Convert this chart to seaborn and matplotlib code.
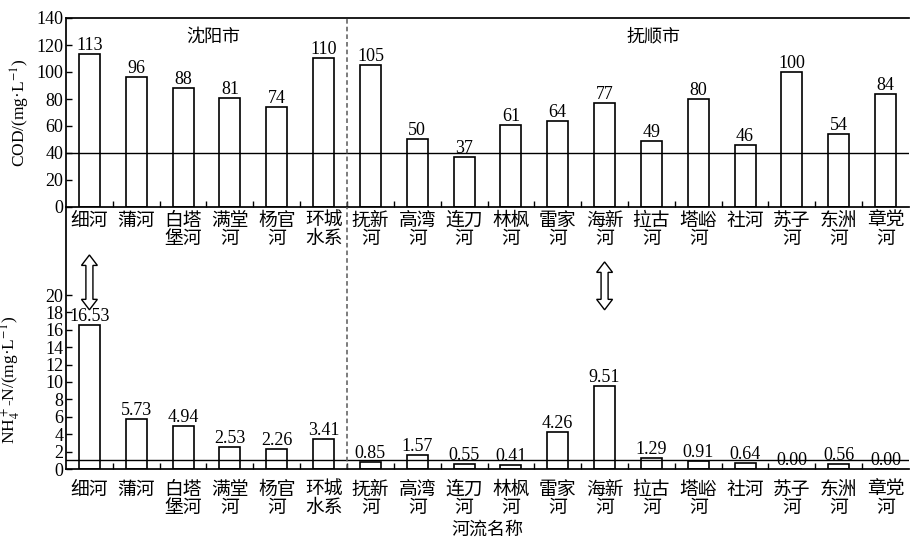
import numpy as np
import pandas as pd
import matplotlib
matplotlib.use('Agg')
import matplotlib.pyplot as plt
import seaborn as sns
from matplotlib.patches import Polygon

# ---- data ----
rivers = ['细河', '蒲河', '白塔堡河', '满堂河', '杨官河', '环城水系',
          '抚新河', '高湾河', '连刀河', '林枫河', '雷家河', '海新河',
          '拉古河', '塔峪河', '社河', '苏子河', '东洲河', '章党河']
tick_labels = ['细河', '蒲河', '白塔\n堡河', '满堂\n河', '杨官\n河', '环城\n水系',
               '抚新\n河', '高湾\n河', '连刀\n河', '林枫\n河', '雷家\n河', '海新\n河',
               '拉古\n河', '塔峪\n河', '社河', '苏子\n河', '东洲\n河', '章党\n河']
cod = [113, 96, 88, 81, 74, 110, 105, 50, 37, 61, 64, 77, 49, 80, 46, 100, 54, 84]
nh3 = [16.53, 5.73, 4.94, 2.53, 2.26, 3.41, 0.85, 1.57, 0.55, 0.41, 4.26, 9.51,
       1.29, 0.91, 0.64, 0.00, 0.56, 0.00]
cities = ['沈阳市', '抚顺市']
cod_limit = 40
nh3_limit = 1.0

df = pd.DataFrame({'river': rivers, 'cod': cod, 'nh3': nh3})

sns.set_theme(style='white', rc={'axes.edgecolor': 'black', 'xtick.color': 'black',
                                 'ytick.color': 'black', 'text.color': 'black',
                                 'axes.labelcolor': 'black'})
plt.rcParams['font.family'] = ['Liberation Serif', 'Noto Sans CJK SC']
plt.rcParams['mathtext.fontset'] = 'stix'
plt.rcParams['axes.unicode_minus'] = False

W, H = 914, 539
fig = plt.figure(figsize=(W / 100, H / 100), dpi=100)
left, right = 66, 909
ax1 = fig.add_axes([left / W, 1 - 207 / H, (right - left) / W, (207 - 18) / H])
ax2 = fig.add_axes([left / W, 1 - 469 / H, (right - left) / W, (469 - 207) / H])
ax2.patch.set_visible(False)

bar_kw = dict(color='white', saturation=1, edgecolor='black', linewidth=1.2, width=0.45)
val_fs = 13

# ---- COD ----
sns.barplot(data=df, x='river', y='cod', ax=ax1, **bar_kw)
ax1.bar_label(ax1.containers[0], fmt='%d', padding=0, fontsize=val_fs)
ax1.axhline(cod_limit, color='black', lw=1)
ax1.set_ylim(0, 140)
ax1.set_yticks(np.arange(0, 141, 20))
ax1.set_ylabel('COD/(mg·L$^{-1}$)', fontsize=12.5, labelpad=3)
ax1.set_xlabel('')
ax1.spines['right'].set_visible(False)
ax1.text(2.65, 126, cities[0], ha='center', va='center', fontsize=13)
ax1.text(12.05, 126, cities[1], ha='center', va='center', fontsize=13)

# ---- NH4+-N ----
sns.barplot(data=df, x='river', y='nh3', ax=ax2, **bar_kw)
ax2.bar_label(ax2.containers[0], fmt='%.2f', padding=0, fontsize=val_fs)
ax2.axhline(nh3_limit, color='black', lw=1)
ax2.set_ylim(0, (469 - 207) / 8.7)
ax2.set_yticks(np.arange(0, 21, 2))
ax2.set_ylabel('NH$_4^+$-N/(mg·L$^{-1}$)', fontsize=12.5)
ax2.yaxis.set_label_coords(-0.052, 0.34)
ax2.spines['top'].set_visible(False)
ax2.spines['right'].set_visible(False)

for ax, pad in ((ax1, 4), (ax2, 9)):
    ax.set_xlim(-0.5, len(rivers) - 0.5)
    ax.set_xticks(range(len(rivers)))
    ax.set_xticklabels(tick_labels, fontsize=13.5, linespacing=1.1)
    ax.set_xticks(np.arange(0.5, len(rivers) - 1, 1), minor=True)
    ax.tick_params(axis='x', which='major', length=0, pad=pad)
    ax.tick_params(axis='x', which='minor', direction='in', length=4, width=1, bottom=True)
    ax.tick_params(axis='y', direction='in', length=4, width=1, left=True, labelsize=13, pad=2)
    ax.axvline(5.5, color='0.35', lw=1.1, ls=(0, (3, 2)), clip_on=False)

ax2.set_xlabel('河流名称', fontsize=13, labelpad=3)

# double-headed hollow arrows
def double_arrow(ax, x, y0, y1, w=0.075, hw=0.17, hl=1.2):
    pts = [(x - w, y0 + hl), (x - hw, y0 + hl), (x, y0), (x + hw, y0 + hl), (x + w, y0 + hl),
           (x + w, y1 - hl), (x + hw, y1 - hl), (x, y1), (x - hw, y1 - hl), (x - w, y1 - hl)]
    ax.add_patch(Polygon(pts, closed=True, fc='white', ec='black', lw=1, clip_on=False))

double_arrow(ax2, rivers.index('细河'), 18.3, 24.6)
double_arrow(ax2, rivers.index('海新河'), 18.3, 23.8)

fig.savefig('out.png', dpi=100)
